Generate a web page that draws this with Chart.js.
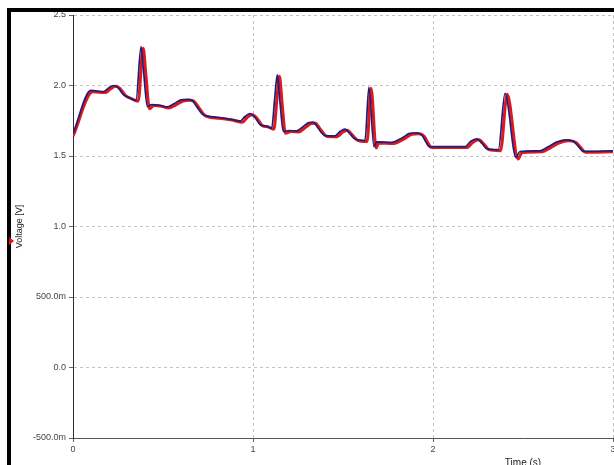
<!DOCTYPE html>
<html>
<head>
<meta charset="utf-8">
<script src="https://cdn.jsdelivr.net/npm/chart.js@4/dist/chart.umd.min.js"></script>
<style>
  html, body { margin: 0; padding: 0; background: #fff; overflow: hidden; width: 614px; height: 465px; }
  #wrap { position: relative; width: 614px; height: 465px; overflow: hidden; }
  #plot { position: absolute; left: 0; top: 0; }
  #frame { position: absolute; left: 7px; top: 8px; width: 640px; height: 480px;
           border-top: 4px solid #000; border-left: 4px solid #000; pointer-events: none; }
  #marker { position: absolute; left: 9px; top: 237px; width: 0; height: 0;
            border-top: 4px solid transparent; border-bottom: 4px solid transparent;
            border-left: 5px solid #e01010; }
</style>
</head>
<body>
<div id="wrap">
  <canvas id="plot" width="980" height="472"></canvas>
  <div id="frame"></div>
  <div id="marker"></div>
</div>
<script>
// Trace 1 (blue): sample times in seconds and voltages in volts
const blueTime = [0, 0.10, 0.17, 0.20, 0.225, 0.25, 0.28, 0.31, 0.35, 0.378,
  0.392, 0.413, 0.437, 0.48, 0.52, 0.56, 0.60, 0.635, 0.66, 0.69,
  0.724, 0.80, 0.87, 0.93, 0.955, 0.983, 1.01, 1.04, 1.07, 1.104,
  1.12, 1.135, 1.15, 1.168, 1.20, 1.243, 1.28, 1.31, 1.335, 1.36,
  1.40, 1.456, 1.485, 1.511, 1.54, 1.567, 1.622, 1.644, 1.672, 1.687,
  1.77, 1.83, 1.87, 1.91, 1.94, 1.96, 1.98, 2.178, 2.21, 2.243,
  2.275, 2.298, 2.363, 2.40, 2.461, 2.483, 2.594, 2.64, 2.69, 2.74,
  2.78, 2.81, 2.835, 3.0];
const blueVolt = [1.66, 1.965, 1.957, 1.985, 2.0, 1.985, 1.935, 1.915, 1.895, 2.276,
  2.1, 1.85, 1.865, 1.86, 1.848, 1.87, 1.898, 1.902, 1.895, 1.845,
  1.792, 1.775, 1.762, 1.748, 1.78, 1.8, 1.775, 1.722, 1.714, 1.698,
  1.9, 2.075, 1.88, 1.675, 1.68, 1.678, 1.71, 1.737, 1.74, 1.70,
  1.645, 1.643, 1.675, 1.69, 1.655, 1.62, 1.61, 1.988, 1.567, 1.60,
  1.596, 1.63, 1.66, 1.665, 1.645, 1.60, 1.567, 1.567, 1.605, 1.622,
  1.585, 1.552, 1.545, 1.945, 1.49, 1.532, 1.537, 1.565, 1.6, 1.615,
  1.605, 1.565, 1.533, 1.537];

// Trace 2 (red): sample times in seconds and voltages in volts
const redTime = [0, 0.11, 0.18, 0.21, 0.237, 0.262, 0.292, 0.322, 0.362, 0.39,
  0.404, 0.425, 0.449, 0.492, 0.532, 0.572, 0.612, 0.647, 0.672, 0.702,
  0.736, 0.812, 0.882, 0.942, 0.967, 0.995, 1.022, 1.052, 1.082, 1.116,
  1.132, 1.147, 1.162, 1.18, 1.212, 1.255, 1.292, 1.322, 1.347, 1.372,
  1.412, 1.468, 1.497, 1.523, 1.552, 1.579, 1.634, 1.656, 1.684, 1.699,
  1.782, 1.842, 1.882, 1.922, 1.952, 1.972, 1.992, 2.19, 2.222, 2.255,
  2.287, 2.31, 2.375, 2.412, 2.473, 2.495, 2.606, 2.652, 2.702, 2.752,
  2.792, 2.822, 2.847, 3.0];
const redVolt = [1.64, 1.955, 1.95, 1.978, 1.995, 1.978, 1.928, 1.908, 1.888, 2.265,
  2.09, 1.835, 1.858, 1.853, 1.84, 1.863, 1.89, 1.895, 1.888, 1.838,
  1.785, 1.768, 1.755, 1.74, 1.773, 1.793, 1.768, 1.715, 1.707, 1.69,
  1.89, 2.065, 1.87, 1.662, 1.673, 1.671, 1.703, 1.73, 1.733, 1.693,
  1.638, 1.636, 1.668, 1.683, 1.648, 1.613, 1.603, 1.98, 1.556, 1.593,
  1.589, 1.623, 1.653, 1.658, 1.638, 1.593, 1.56, 1.56, 1.598, 1.615,
  1.578, 1.545, 1.538, 1.938, 1.478, 1.525, 1.53, 1.558, 1.593, 1.608,
  1.598, 1.558, 1.526, 1.53];

// Axis ticks
const voltTicks = [-0.5, 0, 0.5, 1.0, 1.5, 2.0, 2.5];
const voltTickLabels = ['-500.0m', '0.0', '500.0m', '1.0', '1.5', '2.0', '2.5'];
const timeTicks = [0, 1, 2, 3, 4, 5];
const timeTickLabels = ['0', '1', '2', '3', '4', '5'];

const zip = (xs, ys) => xs.map((x, i) => ({ x: x, y: ys[i] }));

const tickFont = { family: 'Liberation Sans, Arial, sans-serif', size: 9 };
const gridColor = '#c4c4c4';

new Chart(document.getElementById('plot'), {
  type: 'line',
  data: {
    datasets: [
      {
        label: 'Trace 1',
        data: zip(blueTime, blueVolt),
        borderColor: '#1e1e78',
        borderWidth: 1.7,
        pointRadius: 0,
        cubicInterpolationMode: 'monotone',
        borderJoinStyle: 'round',
        order: 0
      },
      {
        label: 'Trace 2',
        data: zip(redTime, redVolt),
        borderColor: '#e0181e',
        borderWidth: 3,
        pointRadius: 0,
        cubicInterpolationMode: 'monotone',
        borderJoinStyle: 'round',
        order: 1
      }
    ]
  },
  options: {
    responsive: false,
    devicePixelRatio: 1,
    animation: false,
    events: [],
    layout: { padding: { left: 14, top: 15, right: 7, bottom: 0 } },
    plugins: { legend: { display: false }, tooltip: { enabled: false } },
    scales: {
      x: {
        type: 'linear',
        min: 0,
        max: 5,
        afterBuildTicks: (s) => { s.ticks = timeTicks.map(v => ({ value: v })); },
        afterFit: (s) => { s.height = 34; },
        ticks: {
          color: '#444',
          font: tickFont,
          padding: 2,
          maxRotation: 0,
          callback: (v) => timeTickLabels[timeTicks.indexOf(v)]
        },
        grid: { color: gridColor, lineWidth: 1, tickLength: 4, tickColor: '#666', drawTicks: true },
        border: { display: true, color: '#555', width: 1, dash: [3, 3] },
        title: {
          display: true,
          text: 'Time (s)',
          color: '#222',
          font: { family: 'Liberation Sans, Arial, sans-serif', size: 10 },
          padding: { top: 0, bottom: 3 }
        }
      },
      y: {
        type: 'linear',
        min: -0.5,
        max: 2.5,
        afterBuildTicks: (s) => { s.ticks = voltTicks.map(v => ({ value: v })); },
        afterFit: (s) => { s.width = 59; },
        ticks: {
          color: '#444',
          font: tickFont,
          padding: 3,
          callback: (v) => voltTickLabels[voltTicks.indexOf(v)]
        },
        grid: { color: gridColor, lineWidth: 1, tickLength: 4, tickColor: '#666', drawTicks: true },
        border: { display: true, color: '#2a2a40', width: 1, dash: [3, 3] },
        title: {
          display: true,
          text: 'Voltage [V]',
          color: '#222',
          font: { family: 'Liberation Sans, Arial, sans-serif', size: 9 },
          padding: { top: 0, bottom: 0 }
        }
      }
    }
  }
});
</script>
</body>
</html>
